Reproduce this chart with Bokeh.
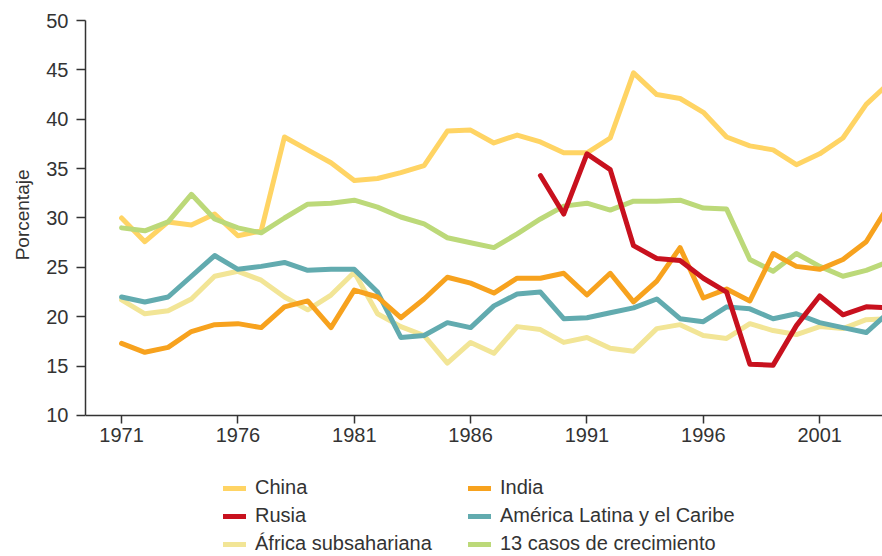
from bokeh.plotting import figure
from bokeh.models import Range1d, FixedTicker, Legend, LegendItem, Title
from bokeh.embed import file_html
from bokeh.resources import INLINE

years = list(range(1971, 2005))
china = [30.0, 27.6, 29.6, 29.3, 30.4, 28.2, 28.7, 38.2, 36.9, 35.6, 33.8, 34.0, 34.6, 35.3,
         38.8, 38.9, 37.6, 38.4, 37.7, 36.6, 36.6, 38.1, 44.7, 42.5, 42.1, 40.7, 38.2, 37.3,
         36.9, 35.4, 36.5, 38.1, 41.5, 43.7]
india = [17.3, 16.4, 16.9, 18.5, 19.2, 19.3, 18.9, 21.0, 21.6, 18.9, 22.7, 22.0, 19.9, 21.8,
         24.0, 23.4, 22.4, 23.9, 23.9, 24.4, 22.2, 24.4, 21.5, 23.6, 27.0, 21.9, 22.8, 21.6,
         26.4, 25.1, 24.8, 25.8, 27.6, 31.4]
rusia_years = list(range(1989, 2005))
rusia = [34.3, 30.4, 36.5, 34.9, 27.2, 25.9, 25.7, 23.9, 22.5, 15.2, 15.1, 19.1, 22.1, 20.2,
         21.0, 20.9]
latam = [22.0, 21.5, 22.0, 24.1, 26.2, 24.8, 25.1, 25.5, 24.7, 24.8, 24.8, 22.5, 17.9, 18.1,
         19.4, 18.9, 21.1, 22.3, 22.5, 19.8, 19.9, 20.4, 20.9, 21.8, 19.8, 19.5, 21.0, 20.8,
         19.8, 20.3, 19.4, 18.9, 18.4, 20.5]
africa = [21.7, 20.3, 20.6, 21.8, 24.1, 24.6, 23.7, 22.0, 20.7, 22.2, 24.5, 20.3, 19.0, 18.1,
          15.3, 17.4, 16.3, 19.0, 18.7, 17.4, 17.9, 16.8, 16.5, 18.8, 19.2, 18.1, 17.8, 19.3,
          18.6, 18.2, 19.0, 18.8, 19.7, 19.8]
casos13 = [29.0, 28.7, 29.6, 32.4, 29.9, 29.0, 28.5, 30.0, 31.4, 31.5, 31.8, 31.1, 30.1, 29.4,
           28.0, 27.5, 27.0, 28.4, 29.9, 31.2, 31.5, 30.8, 31.7, 31.7, 31.8, 31.0, 30.9, 25.8,
           24.6, 26.4, 25.1, 24.1, 24.7, 25.6]

x_ticks = [1971, 1976, 1981, 1986, 1991, 1996, 2001]
y_ticks = [10, 15, 20, 25, 30, 35, 40, 45, 50]

FONT = "Liberation Sans"
TXT = "#333333"

# frame extends below the x axis (placed at y=10) to host the legend
p = figure(width=882, height=556, output_backend="svg", toolbar_location=None,
           x_range=Range1d(1969.45, 2003.70), y_range=Range1d(-4.28, 50),
           min_border_left=85, min_border_right=0, min_border_top=20, min_border_bottom=0)
p.outline_line_color = None
p.grid.visible = False
p.background_fill_color = "white"

common = dict(line_width=5, line_cap="round", line_join="round")
r_china = p.line(years, china, line_color="#FFD464", **common)
r_casos = p.line(years, casos13, line_color="#BCD979", **common)
r_africa = p.line(years, africa, line_color="#F2E596", **common)
r_latam = p.line(years, latam, line_color="#62ABAF", **common)
r_india = p.line(years, india, line_color="#F7A21E", **common)
r_rusia = p.line(rusia_years, rusia, line_color="#C8111E", **common)

for ax in (p.xaxis[0], p.yaxis[0]):
    ax.axis_line_color = "#333333"
    ax.axis_line_width = 1.5
    ax.major_tick_line_color = "#333333"
    ax.major_tick_line_width = 1.5
    ax.major_tick_in = 0
    ax.minor_tick_line_color = None
    ax.major_label_text_font = FONT
    ax.major_label_text_font_size = "20px"
    ax.major_label_text_color = TXT

p.xaxis.ticker = FixedTicker(ticks=x_ticks)
p.xaxis.fixed_location = 10
p.xaxis.major_tick_out = 8
p.xaxis.major_label_standoff = 5
p.yaxis.ticker = FixedTicker(ticks=y_ticks)
p.yaxis.bounds = (10, 50)
p.yaxis.major_tick_out = 9
p.yaxis.major_label_standoff = 8

ylabel = Title(text="Porcentaje", align="right", offset=149, standoff=18,
               vertical_align="top", text_font=FONT, text_font_size="19px",
               text_font_style="normal", text_color=TXT)
p.add_layout(ylabel, "left")

items = [
    LegendItem(label="China", renderers=[r_china]),
    LegendItem(label="Rusia", renderers=[r_rusia]),
    LegendItem(label="África subsahariana", renderers=[r_africa]),
    LegendItem(label="India", renderers=[r_india]),
    LegendItem(label="América Latina y el Caribe", renderers=[r_latam]),
    LegendItem(label="13 casos de crecimiento", renderers=[r_casos]),
]
legend = Legend(items=items, ncols=2, orientation="vertical",
                location=(138, 1),
                glyph_width=23, glyph_height=20, label_standoff=9,
                label_width=208, label_height=20, spacing=5,
                padding=0, margin=0,
                border_line_color=None, background_fill_alpha=0,
                label_text_font=FONT, label_text_font_size="20px",
                label_text_color=TXT)
p.add_layout(legend, "center")

open("out.html", "w").write(file_html(p, INLINE))
